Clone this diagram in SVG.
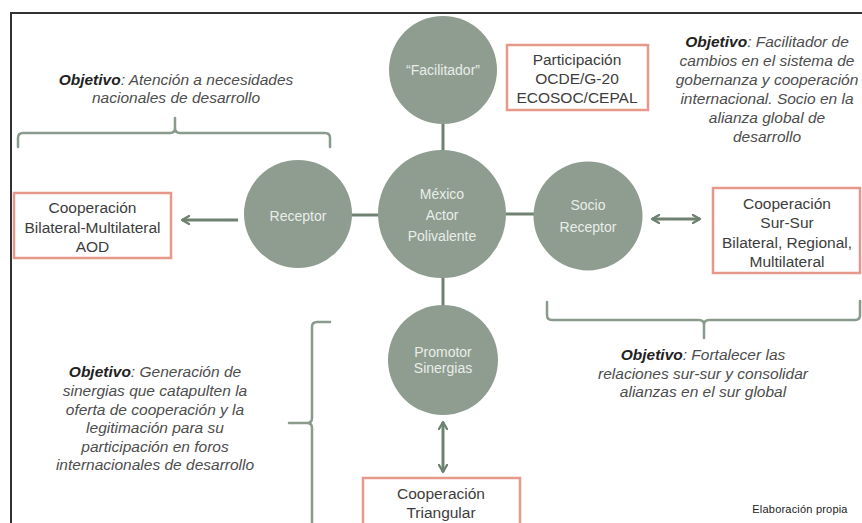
<svg xmlns="http://www.w3.org/2000/svg" width="862" height="523" viewBox="0 0 862 523">
  <style>
    .node { fill: #8e9d90; }
    .ntxt { font-family: "Liberation Sans", Arial, sans-serif; font-size: 14px; fill: #e9ede9; text-anchor: middle; }
    .box { fill: #ffffff; stroke: #e6998b; stroke-width: 2.5; }
    .btxt { font-family: "Liberation Sans", Arial, sans-serif; font-size: 15.5px; fill: #3d3d3d; text-anchor: middle; }
    .obj { font-family: "Liberation Sans", Arial, sans-serif; font-size: 15.5px; font-style: italic; fill: #4d4d4d; text-anchor: middle; }
    .obj .k { font-weight: bold; fill: #222222; }
    .link { stroke: #6f8271; stroke-width: 3; fill: none; }
    .brace { stroke: #8a9a8c; stroke-width: 2.5; fill: none; stroke-linecap: round; }
  </style>
  <defs>
    <marker id="head" viewBox="0 0 10 10" refX="8" refY="5" markerWidth="3.4" markerHeight="3.4" orient="auto-start-reverse" markerUnits="strokeWidth">
      <path d="M1,1 L8,5 L1,9" fill="none" stroke="#6f8271" stroke-width="2.2" stroke-linecap="round" stroke-linejoin="round"/>
    </marker>
  </defs>

  <rect width="862" height="523" fill="#ffffff"/>
  <!-- page frame -->
  <path d="M11,523 L11,13 L862,13" fill="none" stroke="#333333" stroke-width="2"/>

  <!-- connectors -->
  <g id="connectors">
    <line class="link" x1="443" y1="123" x2="443" y2="151"/>
    <line class="link" x1="351" y1="215" x2="379" y2="215"/>
    <line class="link" x1="505" y1="214" x2="535" y2="214"/>
    <line class="link" x1="443" y1="277" x2="443" y2="306"/>
    <line class="link" x1="238" y1="220" x2="182" y2="220" marker-end="url(#head)"/>
    <line class="link" x1="652" y1="219" x2="700" y2="219" marker-start="url(#head)" marker-end="url(#head)"/>
    <line class="link" x1="443" y1="422" x2="443" y2="472" marker-start="url(#head)" marker-end="url(#head)"/>
  </g>

  <!-- braces -->
  <g id="braces">
    <path class="brace" d="M18,147 L18,138 Q18,133 23,133 L170,133 Q175,133 175,128 L175,118 M175,128 Q175,133 180,133 L325,133 Q330,133 330,138 L330,147"/>
    <path class="brace" d="M547,302 L547,315 Q547,320 552,320 L699,320 Q704,320 704,325 L704,338 M704,325 Q704,320 709,320 L855,320 Q860,320 860,315 L860,301"/>
    <path class="brace" d="M330,322 L317,322 Q312,322 312,327 L312,418 Q312,423 307,423 L289,423 M307,423 Q312,423 312,428 L312,525"/>
  </g>

  <!-- actor roles -->
  <g id="facilitador">
    <circle class="node" cx="443" cy="70" r="54"/>
    <text class="ntxt" x="443" y="75">“Facilitador”</text>
  </g>
  <g id="mexico">
    <circle class="node" cx="442" cy="214" r="64"/>
    <text class="ntxt" x="442" y="199">México</text>
    <text class="ntxt" x="442" y="220">Actor</text>
    <text class="ntxt" x="442" y="241">Polivalente</text>
  </g>
  <g id="receptor">
    <circle class="node" cx="298" cy="214" r="54"/>
    <text class="ntxt" x="298" y="221">Receptor</text>
  </g>
  <g id="socio-receptor">
    <circle class="node" cx="588" cy="216" r="54.5"/>
    <text class="ntxt" x="588" y="210">Socio</text>
    <text class="ntxt" x="588" y="232">Receptor</text>
  </g>
  <g id="promotor">
    <circle class="node" cx="443" cy="360" r="55"/>
    <text class="ntxt" x="443" y="357">Promotor</text>
    <text class="ntxt" x="443" y="373">Sinergias</text>
  </g>

  <!-- cooperation modalities -->
  <g id="participacion">
    <rect class="box" x="507" y="45" width="141" height="65"/>
    <text class="btxt" x="577" y="64.5">Participación</text>
    <text class="btxt" x="577" y="84">OCDE/G-20</text>
    <text class="btxt" x="577" y="103">ECOSOC/CEPAL</text>
  </g>
  <g id="coop-bilateral">
    <rect class="box" x="14" y="193" width="157" height="65"/>
    <text class="btxt" x="92.5" y="213">Cooperación</text>
    <text class="btxt" x="92.5" y="233">Bilateral-Multilateral</text>
    <text class="btxt" x="92.5" y="252">AOD</text>
  </g>
  <g id="coop-sur-sur">
    <rect class="box" x="713" y="188" width="147" height="85"/>
    <text class="btxt" x="787" y="208.5">Cooperación</text>
    <text class="btxt" x="787" y="228">Sur-Sur</text>
    <text class="btxt" x="787" y="247.5">Bilateral, Regional,</text>
    <text class="btxt" x="787" y="267">Multilateral</text>
  </g>
  <g id="coop-triangular">
    <rect class="box" x="363" y="478" width="157" height="60"/>
    <text class="btxt" x="441" y="498.5">Cooperación</text>
    <text class="btxt" x="441" y="517.5">Triangular</text>
  </g>

  <!-- objectives -->
  <g id="objetivo-receptor">
    <text class="obj" x="176" y="85"><tspan class="k">Objetivo</tspan>: Atención a necesidades</text>
    <text class="obj" x="176" y="103">nacionales de desarrollo</text>
  </g>
  <g id="objetivo-facilitador">
    <text class="obj" x="767" y="47"><tspan class="k">Objetivo</tspan>: Facilitador de</text>
    <text class="obj" x="767" y="66">cambios en el sistema de</text>
    <text class="obj" x="767" y="85">gobernanza y cooperación</text>
    <text class="obj" x="767" y="104">internacional. Socio en la</text>
    <text class="obj" x="767" y="123">alianza global de</text>
    <text class="obj" x="767" y="142">desarrollo</text>
  </g>
  <g id="objetivo-socio">
    <text class="obj" x="703" y="360"><tspan class="k">Objetivo</tspan>: Fortalecer las</text>
    <text class="obj" x="703" y="379">relaciones sur-sur y consolidar</text>
    <text class="obj" x="703" y="397">alianzas en el sur global</text>
  </g>
  <g id="objetivo-promotor">
    <text class="obj" x="155" y="377"><tspan class="k">Objetivo</tspan>: Generación de</text>
    <text class="obj" x="155" y="396">sinergias que catapulten la</text>
    <text class="obj" x="155" y="414.5">oferta de cooperación y la</text>
    <text class="obj" x="155" y="433">legitimación para su</text>
    <text class="obj" x="155" y="451.5">participación en foros</text>
    <text class="obj" x="155" y="470">internacionales de desarrollo</text>
  </g>

  <text x="800" y="513" font-family="'Liberation Sans', Arial, sans-serif" font-size="11" letter-spacing="0.2" fill="#222222" text-anchor="middle">Elaboración propia</text>
</svg>
